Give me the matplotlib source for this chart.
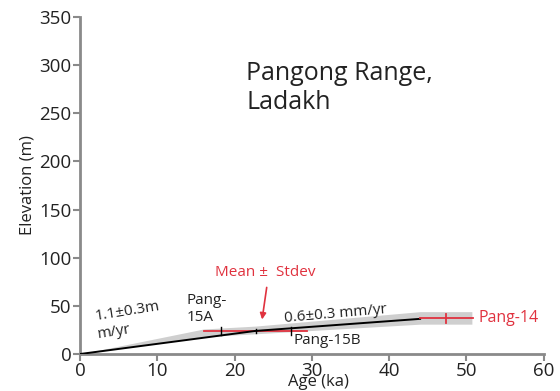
import matplotlib
matplotlib.use("Agg")
import matplotlib.pyplot as plt
import numpy as np

plt.rcParams['font.family'] = ['Open Sans', 'DejaVu Sans']

# sample ages (ka) and elevations (m)
sample_names = ['Pang-15A', 'Pang-15B', 'Pang-14']
sample_age = [18.2, 27.3, 47.4]
sample_elev = [24, 24, 37]

# mean +- stdev of the two Pang-15 ages, and Pang-14 error
mean_age = 22.7
mean_elev = 24
stdev_age = 6.7
p14_err = 3.4

# incision rate line (age, elevation)
line_age = [0, 22.7, 44]
line_elev = [0, 24, 36.5]

# uncertainty envelope
band_age = [0, 16, 22.7, 44, 50.7]
band_upper = [0, 26, 29, 44, 44]
band_lower = [0, 18, 21, 31, 31]

red = '#e0323f'
grey = '#8a8a8a'
dark = '#222222'

fig = plt.figure(figsize=(5.6, 3.91), dpi=100)
ax = fig.add_axes([0.143, 0.0946, 0.828, 0.862])

ax.fill_between(band_age, band_lower, band_upper, color='#cfcfcf', lw=0, zorder=1)
ax.plot(line_age, line_elev, color='black', lw=1.4, zorder=3)

# red error bars
ax.plot([mean_age - stdev_age, mean_age + stdev_age], [mean_elev, mean_elev], color=red, lw=1.3, zorder=2)
ax.plot([sample_age[2] - p14_err, sample_age[2] + p14_err], [sample_elev[2], sample_elev[2]], color=red, lw=1.3, zorder=4)
ax.plot([sample_age[2], sample_age[2]], [sample_elev[2] - 5, sample_elev[2] + 5], color=red, lw=1.3, zorder=4)
# black tick marks for Pang-15A, mean, Pang-15B
ax.plot([sample_age[0]] * 2, [sample_elev[0] - 4, sample_elev[0] + 4], color='black', lw=1, zorder=4)
ax.plot([mean_age] * 2, [mean_elev - 2, mean_elev + 2], color='black', lw=1, zorder=4)
ax.plot([sample_age[1]] * 2, [sample_elev[1] - 4, sample_elev[1] + 4], color='black', lw=1, zorder=4)

ax.set_xlim(0, 60)
ax.set_ylim(0, 350)
ax.set_xticks(range(0, 61, 10))
ax.set_yticks(range(0, 351, 50))
for s in ['top', 'right']:
    ax.spines[s].set_visible(False)
for s in ['left', 'bottom']:
    ax.spines[s].set_color(grey)
    ax.spines[s].set_linewidth(2)
ax.tick_params(colors=grey, width=1.5, length=5, labelsize=13.5, labelcolor=dark, pad=1)

ax.set_ylabel('Elevation (m)', fontsize=12, color=dark, labelpad=3)
fig.text(0.568, 0.012, 'Age (ka)', fontsize=12, color=dark, ha='center')

ax.text(21.5, 304, 'Pangong Range,\nLadakh', fontsize=18, color=dark, va='top', linespacing=1.2)
ax.text(1.8, 35, '1.1\u00b10.3m\nm/yr', fontsize=11, color=dark, rotation=9, va='center', linespacing=1.3)
ax.text(13.8, 47, 'Pang-\n15A', fontsize=11, color=dark, va='center', linespacing=1.2)
ax.text(17.4, 85, 'Mean \u00b1  Stdev', fontsize=11, color=red, va='center')
ax.annotate('', xy=(23.5, 33), xytext=(24.2, 72),
            arrowprops=dict(arrowstyle='-|>', color=red, lw=1.2, mutation_scale=9))
ax.text(26.3, 41, '0.6\u00b10.3 mm/yr', fontsize=11, color=dark, rotation=5, va='center')
ax.text(27.6, 14, 'Pang-15B', fontsize=11, color=dark, va='center')
ax.text(51.5, 37, 'Pang-14', fontsize=11.5, color=red, va='center')

fig.savefig('out.png', dpi=100)
